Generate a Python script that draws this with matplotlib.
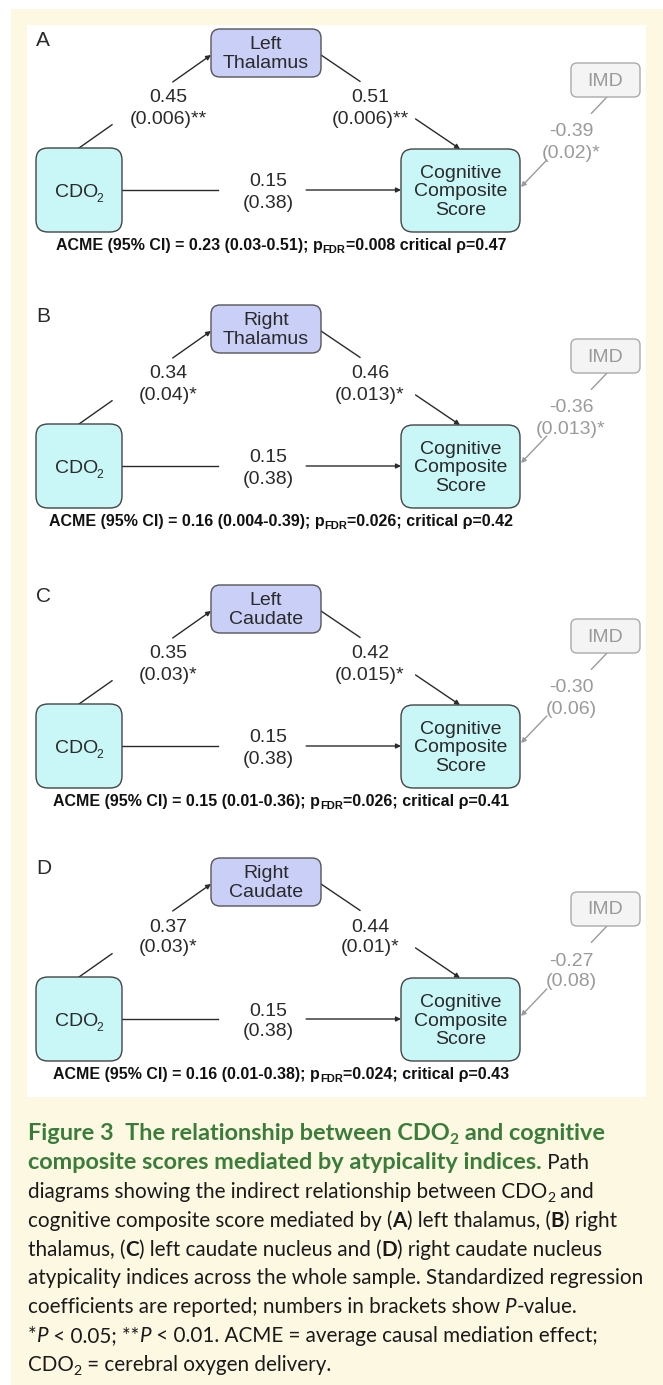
import matplotlib
matplotlib.use("Agg")
import matplotlib.pyplot as plt
from matplotlib.patches import FancyBboxPatch, Rectangle

# ---- data -------------------------------------------------------------
panel_labels = ["A", "B", "C", "D"]
mediators = ["Left\nThalamus", "Right\nThalamus", "Left\nCaudate", "Right\nCaudate"]
a_coef = ["0.45", "0.34", "0.35", "0.37"]
a_pval = ["(0.006)**", "(0.04)*", "(0.03)*", "(0.03)*"]
b_coef = ["0.51", "0.46", "0.42", "0.44"]
b_pval = ["(0.006)**", "(0.013)*", "(0.015)*", "(0.01)*"]
c_coef = ["0.15", "0.15", "0.15", "0.15"]
c_pval = ["(0.38)", "(0.38)", "(0.38)", "(0.38)"]
imd_coef = ["-0.39", "-0.36", "-0.30", "-0.27"]
imd_pval = ["(0.02)*", "(0.013)*", "(0.06)", "(0.08)"]
acme_est = ["0.23 (0.03-0.51)", "0.16 (0.004-0.39)", "0.15 (0.01-0.36)", "0.16 (0.01-0.38)"]
p_fdr = ["0.008", "0.026", "0.026", "0.024"]
crit_rho = ["0.47", "0.42", "0.41", "0.43"]
sep = [" ", "; ", "; ", "; "]

# ---- layout -----------------------------------------------------------
W, H = 663, 1385
panel_y = [29, 305, 585, 858]  # top of mediator box per panel
CREAM = "#fdf8e2"
MED_FILL = "#c9cff6"
BOX_FILL = "#c9f6f6"
GREEN = "#3a7d3a"
DIAG_FONT = "Liberation Sans"
CAP_FONT = "Lato"
FS = 14   # diagram font size (pt)

fig = plt.figure(figsize=(W / 100, H / 100), dpi=100)
ax = fig.add_axes([0, 0, 1, 1])
ax.set_xlim(0, W)
ax.set_ylim(H, 0)
ax.axis("off")
fig.canvas.draw()
renderer = fig.canvas.get_renderer()


def text_width(s, **kw):
    t = ax.text(0, 0, s, **kw)
    w = t.get_window_extent(renderer).width
    t.remove()
    return w


def draw_runs(x, y, runs, ha="left", base=None):
    # runs: list of (text, kwargs, dy, dx)
    base = base or {}
    widths = [text_width(r[0], **{**base, **r[1]}) + (r[3] if len(r) > 3 else 0) for r in runs]
    total = sum(widths)
    if ha == "center":
        x = x - total / 2
    for r, w in zip(runs, widths):
        s, kw, dy = r[0], r[1], r[2]
        dx = r[3] if len(r) > 3 else 0
        ax.text(x + dx, y + dy, s, va="baseline", ha="left", **{**base, **kw})
        x += w


def rbox(x0, y0, x1, y1, fc, ec, r=9):
    ax.add_patch(FancyBboxPatch((x0, y0), x1 - x0, y1 - y0,
                                boxstyle="round,pad=0,rounding_size=%d" % r,
                                fc=fc, ec=ec, lw=1.0, zorder=2))


def gapped_arrow(p0, p1, t1, t2, color):
    (x0, y0), (x1, y1) = p0, p1
    xa, ya = x0 + (x1 - x0) * t1, y0 + (y1 - y0) * t1
    xb, yb = x0 + (x1 - x0) * t2, y0 + (y1 - y0) * t2
    ax.plot([x0, xa], [y0, ya], color=color, lw=1.0, zorder=1)
    ax.annotate("", xy=(x1, y1), xytext=(xb, yb),
                arrowprops=dict(arrowstyle="-|>", color=color, lw=1.0,
                                mutation_scale=7, shrinkA=0, shrinkB=0),
                zorder=1)


# background
ax.add_patch(Rectangle((11, 9), W - 11, H - 9, fc=CREAM, ec="none", zorder=0))
ax.add_patch(Rectangle((27, 25), 646 - 27, 1097 - 25, fc="white", ec="none", zorder=0))

dk = "#2a2a2a"
gr = "#9a9a9a"
for i, y0 in enumerate(panel_y):
    ax.text(36, y0 + 11, panel_labels[i], fontsize=15, family=DIAG_FONT,
            color=dk, va="center", ha="left")

    # boxes
    rbox(211, y0, 321, y0 + 48, MED_FILL, "#555555")
    ax.text(266, y0 + 25, mediators[i], fontsize=FS, family=DIAG_FONT, color=dk,
            ha="center", va="center", linespacing=1.08, zorder=3)
    rbox(571, y0 + 34, 640, y0 + 68, "#f4f4f4", "#aaaaaa", r=6)
    ax.text(605.5, y0 + 52, "IMD", fontsize=FS, family=DIAG_FONT, color=gr,
            ha="center", va="center", zorder=3)
    rbox(36, y0 + 119, 122, y0 + 203, BOX_FILL, "#444444", r=12)
    draw_runs(79, y0 + 168, [("CDO", {}, 0), ("2", {"fontsize": FS * 0.62}, 5, -1)],
              ha="center", base=dict(fontsize=FS, family=DIAG_FONT, color=dk, zorder=3))
    rbox(401, y0 + 120, 520, y0 + 203, BOX_FILL, "#444444", r=12)
    ax.text(460.5, y0 + 163, "Cognitive\nComposite\nScore", fontsize=FS, family=DIAG_FONT,
            color=dk, ha="center", va="center", linespacing=1.1, zorder=3)

    # paths
    gapped_arrow((79, y0 + 119), (211, y0 + 26), 0.25, 0.71, dk)
    gapped_arrow((321, y0 + 26), (460, y0 + 120), 0.28, 0.68, dk)
    gapped_arrow((122, y0 + 161), (401, y0 + 161), 0.345, 0.66, dk)
    gapped_arrow((607, y0 + 68), (521, y0 + 158), 0.18, 0.70, gr)

    for x, c, p, col, yy in [(168, a_coef[i], a_pval[i], dk, y0 + 69),
                             (370, b_coef[i], b_pval[i], dk, y0 + 69),
                             (268, c_coef[i], c_pval[i], dk, y0 + 153),
                             (571, imd_coef[i], imd_pval[i], gr, y0 + 103)]:
        ax.text(x, yy, c, fontsize=FS, family=DIAG_FONT, color=col, ha="center", va="center")
        ax.text(x, yy + 21, p, fontsize=FS, family=DIAG_FONT, color=col, ha="center", va="center")

    # ACME line
    draw_runs(281, y0 + 221,
              [("ACME (95% CI) = " + acme_est[i] + "; p", {}, 0),
               ("FDR", {"fontsize": 8}, 3),
               ("=" + p_fdr[i] + sep[i] + "critical \u03c1=" + crit_rho[i], {}, 0)],
              ha="center", base=dict(fontsize=11.5, family=DIAG_FONT, weight="bold", color="#111111"))

# ---- caption ----------------------------------------------------------
CFS = 14.9
TFS = 16.9
b = dict(fontsize=CFS, family=CAP_FONT, color="#1a1a1a")
g = dict(weight="bold", color=GREEN, fontsize=TFS)
gsub = dict(weight="bold", color=GREEN, fontsize=TFS * 0.66)
bd = dict(weight="bold")
it = dict(style="italic")
sub = dict(fontsize=CFS * 0.68)
lx = 28
ly0 = 1140
dl = 28.9
lines = [
    [("Figure 3  The relationship between CDO", g, 0), ("2", gsub, 4),
     (" and cognitive", g, 0)],
    [("composite scores mediated by atypicality indices.", g, 0), (" Path", {}, 0)],
    [("diagrams showing the indirect relationship between CDO", {}, 0), ("2", sub, 4),
     (" and", {}, 0)],
    [("cognitive composite score mediated by (", {}, 0), ("A", bd, 0),
     (") left thalamus, (", {}, 0), ("B", bd, 0), (") right", {}, 0)],
    [("thalamus, (", {}, 0), ("C", bd, 0), (") left caudate nucleus and (", {}, 0),
     ("D", bd, 0), (") right caudate nucleus", {}, 0)],
    [("atypicality indices across the whole sample. Standardized regression", {}, 0)],
    [("coefficients are reported; numbers in brackets show ", {}, 0), ("P", it, 0),
     ("-value.", {}, 0)],
    [("*", {}, 0), ("P", it, 0), (" < 0.05; **", {}, 0), ("P", it, 0),
     (" < 0.01. ACME = average causal mediation effect;", {}, 0)],
    [("CDO", {}, 0), ("2", sub, 4), (" = cerebral oxygen delivery.", {}, 0)],
]
for k, runs in enumerate(lines):
    draw_runs(lx, ly0 + k * dl, runs, base=b)

fig.savefig("out.png", dpi=100)
